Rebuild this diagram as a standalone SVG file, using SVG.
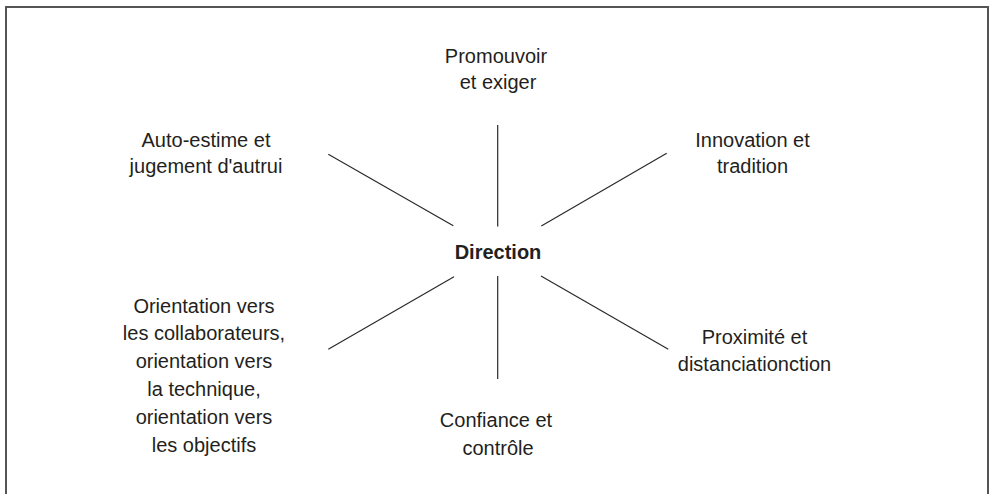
<svg xmlns="http://www.w3.org/2000/svg" width="990" height="494" viewBox="0 0 990 494">
<style>
text{font-family:"Liberation Sans",Arial,sans-serif;font-size:20px;fill:#231f20;text-anchor:middle}
.b{font-weight:bold}
.c line{stroke:#2a2a2a;stroke-width:1.2}
</style>
<rect x="6" y="7" width="982" height="500" fill="#fff" stroke="#555" stroke-width="2"/>
<g class="c" id="connectors">
<line x1="497.7" y1="125" x2="497.7" y2="226.5"/>
<line x1="328.3" y1="154.3" x2="453.3" y2="225.7"/>
<line x1="666.7" y1="153.3" x2="541.3" y2="225.9"/>
<line x1="328.3" y1="349.3" x2="454" y2="276.7"/>
<line x1="497.7" y1="276" x2="497.7" y2="379"/>
<line x1="541" y1="276" x2="668.3" y2="349.3"/>
</g>
<g id="center"><text class="b" x="498" y="259.3">Direction</text></g>
<g id="top"><text x="496" y="62.7">Promouvoir</text><text x="498" y="89.3">et exiger</text></g>
<g id="upper-left"><text x="206" y="146.7">Auto-estime et</text><text x="206" y="173">jugement d'autrui</text></g>
<g id="upper-right"><text x="752.5" y="146.7">Innovation et</text><text x="752.5" y="173">tradition</text></g>
<g id="lower-left"><text x="204" y="312.5">Orientation vers</text><text x="204" y="340.3">les collaborateurs,</text><text x="204" y="368.1">orientation vers</text><text x="204" y="395.9">la technique,</text><text x="204" y="423.7">orientation vers</text><text x="204" y="451.5">les objectifs</text></g>
<g id="bottom"><text x="496" y="426.7">Confiance et</text><text x="498" y="455">contrôle</text></g>
<g id="lower-right"><text x="754.5" y="344">Proximité et</text><text x="754.5" y="370.7">distanciationction</text></g>
</svg>
